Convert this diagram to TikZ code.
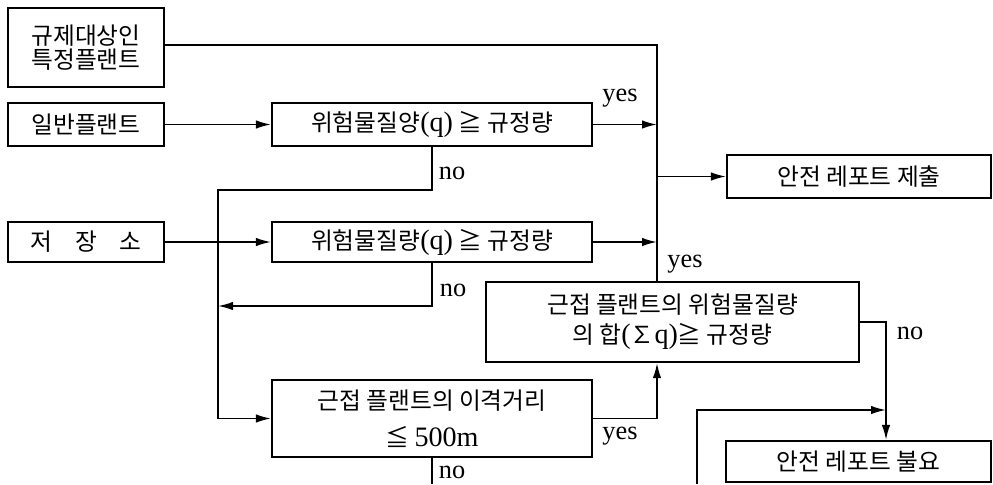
\documentclass[tikz,border=0pt]{standalone}
\usepackage{fontspec}
\setmainfont{Liberation Serif}
\newfontfamily\kr{Noto Sans CJK KR}
\usetikzlibrary{arrows.meta}
\newcommand{\rmq}[1]{{\rmfamily\fontsize{16}{16}\selectfont #1}}
\begin{document}
\begin{tikzpicture}[x=0.02cm,y=-0.02cm,
  box/.style={draw,line width=1.2pt,inner sep=0pt,align=center,font={\kr\fontsize{13.5}{15}\selectfont}},
  conn/.style={line width=1pt},
  arr/.style={conn,-{Latex[length=0.3cm,width=0.17cm]}},
  lbl/.style={inner sep=0pt,font={\fontsize{15}{17}\selectfont}}]
\useasboundingbox (0,0) rectangle (993,484);
% boxes
\node[box,minimum width=3.12cm,minimum height=1.58cm,font={\kr\fontsize{13.5}{14}\selectfont}] (A) at (86,47.5) {규제대상인\\특정플랜트};
\node[box,minimum width=3.12cm,minimum height=0.86cm] (B) at (86,124.5) {일반플랜트};
\node[box,minimum width=6.4cm,minimum height=0.86cm] (C) at (432,124.5) {위험물질양\rmq{(q)} ≧ 규정량};
\node[box,minimum width=3.12cm,minimum height=0.8cm] (D) at (86,242) {저\hspace{13pt}장\hspace{13pt}소};
\node[box,minimum width=6.4cm,minimum height=0.8cm] (F) at (432,242) {위험물질량\rmq{(q)} ≧ 규정량};
\node[box,minimum width=5.28cm,minimum height=0.86cm] (H) at (859,176.5) {안전 레포트 제출};
\node[box,minimum width=7.46cm,minimum height=1.6cm,font={\kr\fontsize{13.5}{17}\selectfont}] (G) at (672.5,322) {근접 플랜트의 위험물질량\\의 합\rmq{(}∑\rmq{q)}≧ 규정량};
\node[box,minimum width=6.4cm,minimum height=1.54cm,font={\kr\fontsize{13.5}{21}\selectfont}] (E) at (432,418.5) {근접 플랜트의 이격거리\\≦ {\rmfamily\fontsize{16}{21}\selectfont 500m}};
\node[box,minimum width=5.3cm,minimum height=0.82cm] (I) at (858.5,461.5) {안전 레포트 불요};
% coordinates
\coordinate (t1) at (657,45);
\coordinate (cn) at (431,190);
\coordinate (lx) at (218,190);
\coordinate (fn) at (218,306);
\coordinate (eb) at (432,484);
\coordinate (gn) at (886,320);
\coordinate (b1) at (697,484);
\coordinate (b2) at (697,410);
% connectors
\draw[conn] (A.east |- t1) -- (t1) -- (t1 |- G.north);
\draw[arr] (B) -- (C);
\draw[arr] (C.east) -- (C.east -| t1);
\draw[arr] (D) -- (F);
\draw[arr] (F.east) -- (F.east -| t1);
\draw[arr] (t1 |- H.west) -- (H.west);
\draw[arr] (C.south) -- (C.south |- cn) -- (lx) -- (lx |- E.west) -- (E.west);
\draw[arr] (F.south) -- (F.south |- fn) -- (fn);
\draw[arr] (E.east) -- (E.east -| t1) -- (t1 |- G.south);
\draw[conn] (E.south) -- (eb);
\draw[arr] (G.east) -- (G.east -| gn) -- (gn |- I.north);
\draw[arr] (b1) -- (b2) -- (b2 -| gn);
% labels
\node[lbl] (y1) at (620,98) {yes};
\node[lbl] (n1) at (452,173) {no};
\node[lbl] (n2) at (453,290) {no};
\node[lbl] (y2) at (685,264) {yes};
\node[lbl] (y3) at (620,436) {yes};
\node[lbl] (n3) at (452,472) {no};
\node[lbl] (n4) at (910,333) {no};
\end{tikzpicture}
\end{document}
